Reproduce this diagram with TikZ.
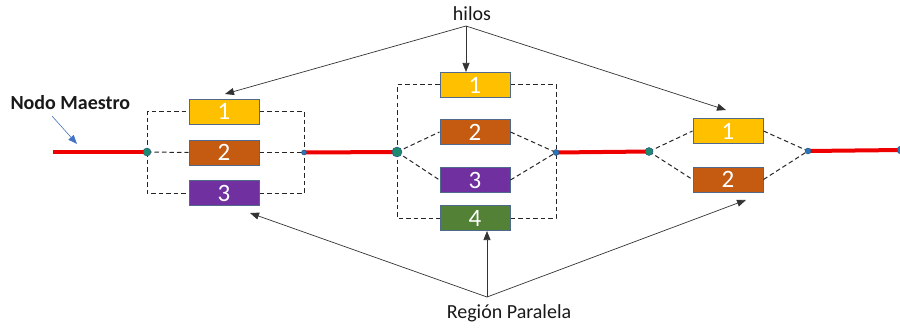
\documentclass[tikz,border=0pt]{standalone}
\usepackage{fontspec}
\setmainfont{Carlito}
\usetikzlibrary{arrows.meta}
\definecolor{cyel}{HTML}{FFC000}
\definecolor{cora}{HTML}{C55A11}
\definecolor{cpur}{HTML}{7030A0}
\definecolor{cgrn}{HTML}{538135}
\definecolor{cbord}{HTML}{4F6A8A}
\definecolor{cred}{HTML}{EE0000}
\definecolor{cdotg}{HTML}{1F8A70}
\definecolor{cdotb}{HTML}{2E75B6}
\definecolor{carrb}{HTML}{4472C4}
\tikzset{
  thread/.style={draw=cbord, line width=1pt, minimum width=70pt, minimum height=25pt, inner sep=0pt, text=white, font=\fontsize{25}{25}\selectfont},
  master/.style={draw=cred, line width=4pt},
  dash line/.style={draw=black!85, line width=1pt, dash pattern=on 4.5pt off 3pt},
  joint/.style={circle, fill=#1, draw=cdotb!70!black, line width=0.4pt, inner sep=0pt, minimum size=7pt},
  lbl/.style={font=\fontsize{20}{20}\selectfont, text=black!90},
  pointer/.style={draw=black!80, line width=0.7pt, -{Triangle[length=9pt,width=7pt]}},
}
\begin{document}
\begin{tikzpicture}[x=1pt,y=-1pt]
\useasboundingbox (0,0) rectangle (900,329);
% labels
\node[lbl] (hilos) at (472,14) {hilos};
\node[lbl] (region) at (509,313) {Región Paralela};
\node[lbl, font=\fontsize{20}{20}\selectfont\bfseries, anchor=west] (maestro) at (7,103) {Nodo Maestro};
\coordinate (hsrc) at (466,26);
\coordinate (rsrc) at (487,297);
% master line coordinates
\coordinate (m0) at (53,152);
\coordinate (m7) at (902,150);
% boxes
\node[thread, fill=cyel] (g1a) at (224,111.5) {1};
\node[thread, fill=cora] (g1b) at (224,152.5) {2};
\node[thread, fill=cpur] (g1c) at (224,193) {3};
\node[thread, fill=cyel] (g2a) at (475,85) {1};
\node[thread, fill=cora] (g2b) at (475,132) {2};
\node[thread, fill=cpur] (g2c) at (475,180) {3};
\node[thread, fill=cgrn] (g2d) at (475,218) {4};
\node[thread, fill=cyel] (g3a) at (728,131) {1};
\node[thread, fill=cora] (g3b) at (728,179.5) {2};
% joints (positions)
\coordinate (d1) at (147,152);
\coordinate (d2) at (304,152.5);
\coordinate (d3) at (397,152);
\coordinate (d4) at (556,152.5);
\coordinate (d5) at (649,151.5);
\coordinate (d6) at (808,151);
% dashed connections
\draw[dash line] (d1) |- (g1a.west);
\draw[dash line] (d1) -- (g1b.west);
\draw[dash line] (d1) |- (g1c.west);
\draw[dash line] (g1a.east) -| (d2);
\draw[dash line] (g1b.east) -- (d2);
\draw[dash line] (g1c.east) -| (d2);
\draw[dash line] (d3) |- (g2a.west);
\draw[dash line] (d3) -- (g2b.west);
\draw[dash line] (d3) -- (g2c.west);
\draw[dash line] (d3) |- (g2d.west);
\draw[dash line] (g2a.east) -| (d4);
\draw[dash line] (g2b.east) -- (d4);
\draw[dash line] (g2c.east) -- (d4);
\draw[dash line] (g2d.east) -| (d4);
\draw[dash line] (d5) -- (g3a.west);
\draw[dash line] (d5) -- (g3b.west);
\draw[dash line] (g3a.east) -- (d6);
\draw[dash line] (g3b.east) -- (d6);
% master red lines
\draw[master] (m0) -- (d1);
\draw[master] (d2) -- (d3);
\draw[master] (d4) -- (d5);
\draw[master] (d6) -- (m7);
% joint dots
\node[joint=cdotg, minimum size=8pt] (j1) at (d1) {};
\node[joint=cdotb, minimum size=5pt] (j2) at (d2) {};
\node[joint=cdotg, minimum size=10pt] (j3) at (d3) {};
\node[joint=cdotb, minimum size=6pt] (j4) at (d4) {};
\node[joint=cdotg, minimum size=8pt] (j5) at (d5) {};
\node[joint=cdotb, minimum size=6pt] (j6) at (d6) {};
\node[joint=cdotb, minimum size=8pt] (j7) at (901,150) {};
% pointers
\coordinate (ms) at (52,116);
\draw[pointer, draw=carrb, line width=0.6pt] (ms) -- (77,144);
\draw[pointer] (hsrc) -- (225,94);
\draw[pointer] (hsrc) -- (g2a.north -| hsrc);
\draw[pointer] (hsrc) -- (726,110);
\draw[pointer] (rsrc) -- (250,213);
\draw[pointer] (rsrc) -- (g2d.south -| rsrc);
\draw[pointer] (rsrc) -- (746,200);
\end{tikzpicture}
\end{document}
